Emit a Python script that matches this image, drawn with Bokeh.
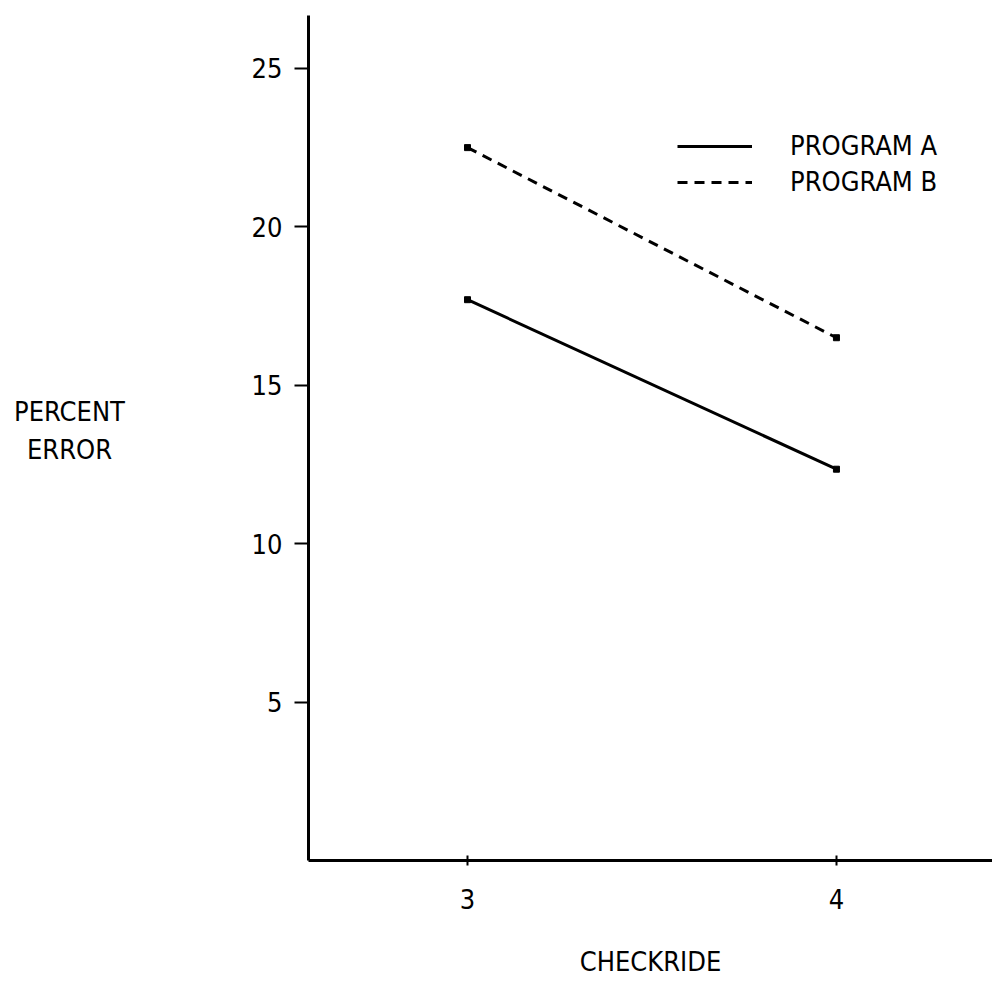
from bokeh.plotting import figure
from bokeh.models import Range1d, FixedTicker, Legend, LegendItem, Label
from bokeh.embed import file_html
from bokeh.resources import INLINE

checkride = [3, 4]
program_a = [17.7, 12.35]
program_b = [22.5, 16.5]
x_ticks = [3, 4]
y_ticks = [5, 10, 15, 20, 25]
y_title = "PERCENT\nERROR"
x_title = "CHECKRIDE"

FONT = "DejaVu Sans Condensed"
FS = "27px"

p = figure(width=992, height=983, output_backend="svg", toolbar_location=None,
           x_range=Range1d(2.569, 4.423), y_range=Range1d(0, 26.67),
           min_border_left=308, min_border_right=0, min_border_top=15, min_border_bottom=123)
p.outline_line_color = None
p.grid.visible = False
p.background_fill_color = "white"
p.border_fill_color = "white"

la = p.line(checkride, program_a, line_color="black", line_width=3)
lb = p.line(checkride, program_b, line_color="black", line_width=3, line_dash="10 7")
p.scatter(checkride, program_a, size=6, marker="square", color="black")
p.scatter(checkride, program_b, size=6, marker="square", color="black")

xa = p.xaxis[0]
xa.ticker = FixedTicker(ticks=x_ticks)
xa.axis_line_width = 3
xa.major_tick_in = 5
xa.major_tick_out = 5
xa.major_tick_line_width = 2
xa.minor_tick_line_color = None
xa.major_label_text_font = FONT
xa.major_label_text_font_size = FS
xa.major_label_text_color = "black"
xa.major_label_standoff = 23
xa.axis_label = x_title
xa.axis_label_text_font = FONT
xa.axis_label_text_font_size = FS
xa.axis_label_text_font_style = "normal"
xa.axis_label_text_color = "black"
xa.axis_label_standoff = 34

ya = p.yaxis[0]
ya.ticker = FixedTicker(ticks=y_ticks)
ya.axis_line_width = 3
ya.major_tick_in = 0
ya.major_tick_out = 14
ya.major_tick_line_width = 2
ya.minor_tick_line_color = None
ya.major_label_text_font = FONT
ya.major_label_text_font_size = FS
ya.major_label_text_color = "black"
ya.major_label_standoff = 12

ylab = Label(x=-68, y=430, x_units="screen", y_units="screen", text=y_title,
             text_align="center", text_baseline="middle",
             text_font=FONT, text_font_size=FS, text_color="black")
p.add_layout(ylab, "left")

legend = Legend(items=[LegendItem(label="PROGRAM A", renderers=[la]),
                       LegendItem(label="PROGRAM B", renderers=[lb])],
                location=(369, 663), padding=0, margin=0, spacing=5,
                glyph_width=75, glyph_height=30, label_height=30,
                label_standoff=38, label_text_font=FONT, label_text_font_size=FS,
                label_text_color="black",
                border_line_color=None, background_fill_alpha=0)
p.add_layout(legend)

open("out.html", "w").write(file_html(p, INLINE))
